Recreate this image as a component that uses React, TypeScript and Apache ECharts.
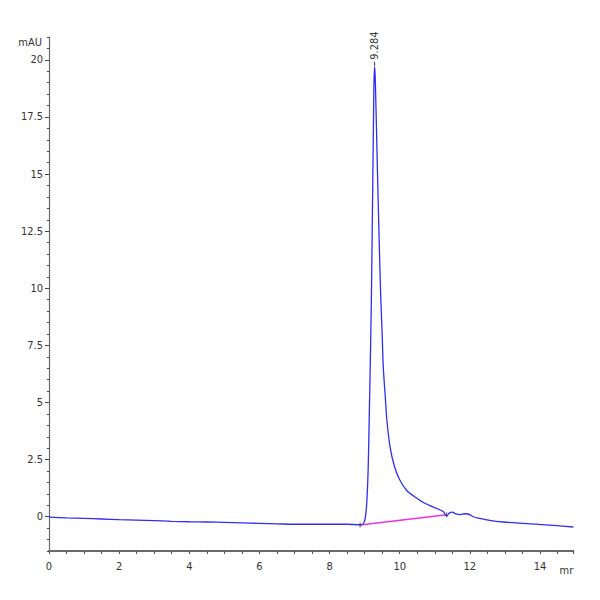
import React, { useEffect, useRef } from "react";
import * as echarts from "echarts";

// Chromatogram trace: [time (min), absorbance (mAU)]
const traceTimes = [
  0, 0.5, 1, 1.5, 2, 2.5, 3, 3.5, 4, 4.5, 5, 5.5, 6, 6.5, 7, 7.5, 8, 8.5, 8.87,
  8.96, 9.01, 9.06, 9.1, 9.13, 9.16, 9.19, 9.22, 9.25, 9.265, 9.284, 9.3, 9.33, 9.36, 9.39,
  9.43, 9.46, 9.5, 9.53, 9.6, 9.63, 9.72, 9.85, 10.0, 10.2, 10.48, 10.7, 10.96,
  11.1, 11.24, 11.34, 11.42, 11.5, 11.6, 11.72, 11.85, 11.95, 12.1, 12.24, 12.6,
  12.95, 13.4, 13.9, 14.4, 14.95,
];
const traceValues = [
  -0.02, -0.05, -0.07, -0.1, -0.13, -0.15, -0.17, -0.2, -0.22, -0.23, -0.25, -0.27, -0.29, -0.31, -0.33, -0.33, -0.33, -0.33, -0.35,
  -0.3, -0.13, 0.6, 2.06, 4.25, 6.6, 9.3, 13.0, 17.0, 18.9, 19.7, 19.3, 17.5, 15.5, 13.6,
  11.2, 9.6, 8.0, 6.6, 5.0, 4.3, 3.1, 2.2, 1.62, 1.15, 0.82, 0.6, 0.42,
  0.33, 0.23, 0.03, 0.17, 0.2, 0.12, 0.09, 0.13, 0.12, 0.0, -0.06, -0.17,
  -0.23, -0.28, -0.32, -0.38, -0.45,
];

// Integration baseline of the peak
const baselineTimes = [8.87, 11.34];
const baselineValues = [-0.36, 0.09];

// Peak apex and its label
const peakTime = 9.284;
const peakValue = 19.7;
const peakLabel = "9.284";

// Axis settings
const xMin = 0;
const xMax = 14.95;
const xStep = 2;
const yMin = -1.5;
const yMax = 21;
const yMinorStep = 0.5;
const yMajorTicks = [0, 2.5, 5, 7.5, 10, 12.5, 15, 17.5, 20];
const yLabels = ["0", "2.5", "5", "7.5", "10", "12.5", "15", "17.5", "20"];
const yName = "mAU";
const xName = "mr";

const FONT = "'Liberation Sans Narrow', 'DejaVu Sans Condensed', 'Arial Narrow', sans-serif";

export default function App() {
  const ref = useRef<HTMLDivElement>(null);
  useEffect(() => {
    if (!ref.current) return;
    const chart = echarts.init(ref.current, undefined, { renderer: "svg" });
    const trace = traceTimes.map((t, i) => [t, traceValues[i]]);
    const base = baselineTimes.map((t, i) => [t, baselineValues[i]]);
    const labelFor = (v: number) => {
      const idx = yMajorTicks.findIndex((m) => Math.abs(m - v) < 1e-6);
      return idx >= 0 ? yLabels[idx] : "";
    };
    chart.setOption({
      animation: false,
      backgroundColor: "#ffffff",
      grid: { left: 49, right: 26.7, top: 37, bottom: 49, containLabel: false },
      xAxis: {
        type: "value",
        min: xMin,
        max: xMax,
        interval: xStep,
        name: xName,
        nameLocation: "end",
        nameGap: 0,
        nameTextStyle: {
          fontFamily: FONT,
          fontSize: 11,
          color: "#333",
          align: "right",
          verticalAlign: "top",
          padding: [14, 0, 0, 0],
        },
        axisLine: { show: true, onZero: false, lineStyle: { color: "#6a6a6a", width: 2 } },
        axisTick: { show: true, length: 3, inside: false, lineStyle: { color: "#555", width: 1 } },
        minorTick: { show: true, splitNumber: 4, length: 3, lineStyle: { color: "#555", width: 1 } },
        splitLine: { show: false },
        minorSplitLine: { show: false },
        axisLabel: {
          showMaxLabel: false,
          fontFamily: FONT,
          fontSize: 11,
          color: "#333",
          margin: 10,
        },
      },
      yAxis: [
        {
          type: "value",
          min: yMin,
          max: yMax,
          interval: yMinorStep,
          name: yName,
          nameLocation: "end",
          nameGap: -5,
          nameTextStyle: {
            fontFamily: FONT,
            fontSize: 11,
            color: "#333",
            align: "right",
            verticalAlign: "middle",
            padding: [0, 7, 0, 0],
          },
          axisLine: { show: true, onZero: false, lineStyle: { color: "#6a6a6a", width: 1.2 } },
          axisTick: { show: true, length: 2, lineStyle: { color: "#444", width: 1 } },
          splitLine: { show: false },
          axisLabel: {
            fontFamily: FONT,
            fontSize: 11,
            color: "#333",
            margin: 6,
            formatter: (v: number) => labelFor(v),
          },
        },
        {
          type: "value",
          min: yMin,
          max: yMax,
          position: "left",
          axisLine: { show: false, onZero: false },
          axisTick: {
            show: true,
            length: 4,
            customValues: yMajorTicks,
            lineStyle: { color: "#444", width: 1 },
          },
          axisLabel: { show: false },
          splitLine: { show: false },
        },
      ],
      series: [
        {
          type: "line",
          data: trace,
          symbol: "none",
          smooth: 0.3,
          lineStyle: { color: "#2e2ef5", width: 1.3 },
          z: 3,
          markPoint: {
            symbol: "rect",
            symbolSize: [1, 4],
            itemStyle: { color: "#333" },
            data: [
              {
                coord: [peakTime, peakValue],
                symbolOffset: [0, -3],
                label: {
                  show: true,
                  formatter: peakLabel,
                  position: "top",
                  distance: 2,
                  rotate: 90,
                  align: "left",
                  verticalAlign: "middle",
                  fontFamily: FONT,
                  fontSize: 11,
                  color: "#333",
                },
              },
            ],
          },
        },
        {
          type: "line",
          data: base,
          symbol: "none",
          lineStyle: { color: "#ee33dd", width: 1.5 },
          z: 2,
        },
        {
          type: "scatter",
          data: base,
          symbol: "rect",
          symbolSize: [1, 5],
          itemStyle: { color: "#333" },
          z: 4,
        },
      ],
    });
    return () => chart.dispose();
  }, []);
  return (
    <div
      ref={ref}
      style={{ position: "fixed", left: 0, top: 0, width: 600, height: 600, background: "#fff" }}
    />
  );
}
